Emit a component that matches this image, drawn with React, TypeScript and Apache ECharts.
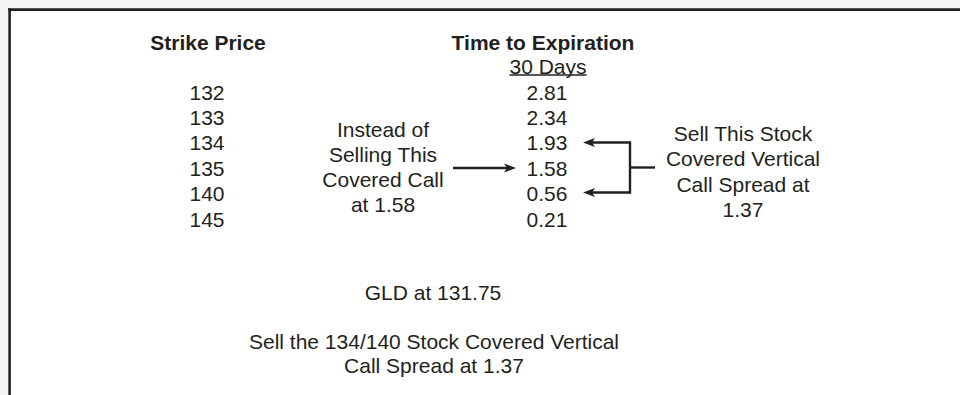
import React, { useEffect, useRef } from "react";
import * as echarts from "echarts";

// ---- data ----
const columnHeaders = ["Strike Price", "30 Days"];
const strikePrices = [132, 133, 134, 135, 140, 145];
const premiums30Days = [2.81, 2.34, 1.93, 1.58, 0.56, 0.21];
const timeHeader = "Time to Expiration";
const leftNote = ["Instead of", "Selling This", "Covered Call", "at 1.58"];
const rightNote = ["Sell This Stock", "Covered Vertical", "Call Spread at", "1.37"];
const underlyingNote = "GLD at 131.75";
const bottomNote = ["Sell the 134/140 Stock Covered Vertical", "Call Spread at 1.37"];

const INK = "#231f20";
const FONT = "Liberation Sans, Arial, Helvetica, sans-serif";
const FS = 21;

function txt(text: string, x: number, y: number, opts: any = {}) {
  return {
    type: "text",
    silent: true,
    style: {
      text,
      x,
      y,
      fill: INK,
      fontSize: opts.fontSize || FS,
      fontFamily: FONT,
      fontWeight: opts.bold ? "bold" : "normal",
      lineHeight: opts.lineHeight || 25.3,
      align: "center",
      verticalAlign: "middle",
      textAlign: "center",
      textVerticalAlign: "middle",
    },
  };
}

function line(x1: number, y1: number, x2: number, y2: number, w = 2.4) {
  return {
    type: "line",
    silent: true,
    shape: { x1, y1, x2, y2 },
    style: { stroke: INK, lineWidth: w },
  };
}

function head(tipX: number, y: number, dir: number) {
  // dir = 1 points right, -1 points left
  const len = 12;
  const half = 4.6;
  return {
    type: "polygon",
    silent: true,
    shape: {
      points: [
        [tipX, y],
        [tipX - dir * len, y - half],
        [tipX - dir * (len - 3), y],
        [tipX - dir * len, y + half],
      ],
    },
    style: { fill: INK },
  };
}

export default function App() {
  const ref = useRef<HTMLDivElement>(null);
  useEffect(() => {
    if (!ref.current) return;
    const chart = echarts.init(ref.current, undefined, { renderer: "svg" });
    const rows = strikePrices.map((_, i) => String(i));
    const labelStyle = {
      show: true,
      position: "inside",
      color: INK,
      opacity: 1,
      fontSize: FS,
      fontWeight: "normal",
      fontFamily: FONT,
      textBorderWidth: 0,
      textBorderColor: "transparent",
    };
    chart.setOption({
      animation: false,
      backgroundColor: "#ffffff",
      grid: { left: 37, width: 680, top: 79.3, height: 152.4 },
      xAxis: { type: "category", data: columnHeaders, show: false },
      yAxis: { type: "category", data: rows, inverse: true, show: false },
      series: [
        {
          type: "scatter",
          symbolSize: 1,
          itemStyle: { color: "rgba(0,0,0,0)" },
          data: strikePrices.map((v, i) => [0, i, v]),
          label: { ...labelStyle, formatter: (p: any) => String(p.value[2]) },
        },
        {
          type: "scatter",
          symbolSize: 1,
          itemStyle: { color: "rgba(0,0,0,0)" },
          data: premiums30Days.map((v, i) => [1, i, v]),
          label: { ...labelStyle, formatter: (p: any) => p.value[2].toFixed(2) },
        },
      ],
      graphic: [
        // page shading outside frame
        { type: "rect", silent: true, shape: { x: 0, y: 0, width: 960, height: 8 }, style: { fill: "#f3f3f3" } },
        { type: "rect", silent: true, shape: { x: 0, y: 0, width: 8, height: 395 }, style: { fill: "#f3f3f3" } },
        // frame
        line(8.2, 9.6, 960, 9.6, 2.6),
        line(9.6, 8.2, 9.6, 395, 2.6),
        // headers
        txt(columnHeaders[0], 208, 42, { bold: true }),
        txt(timeHeader, 543, 42, { bold: true }),
        txt(columnHeaders[1], 548, 66),
        line(509.5, 75, 586.5, 75, 1.4),
        // left note + arrow
        txt(leftNote.join("\n"), 383, 167),
        line(453, 168, 508, 168, 2.4),
        head(516, 168, 1),
        // right bracket
        line(590, 142.5, 630, 142.5, 2.4),
        line(590, 192.5, 630, 192.5, 2.4),
        line(630, 141.3, 630, 193.7, 2.4),
        line(630, 167.5, 655, 167.5, 2.4),
        head(583, 142.5, -1),
        head(583, 192.5, -1),
        txt(rightNote.join("\n"), 743, 171.5),
        // bottom notes
        txt(underlyingNote, 433, 292),
        txt(bottomNote.join("\n"), 434, 353, { lineHeight: 24 }),
      ],
    });
    return () => chart.dispose();
  }, []);
  return (
    <div
      ref={ref}
      style={{ position: "fixed", left: 0, top: 0, width: 960, height: 395 }}
    />
  );
}
